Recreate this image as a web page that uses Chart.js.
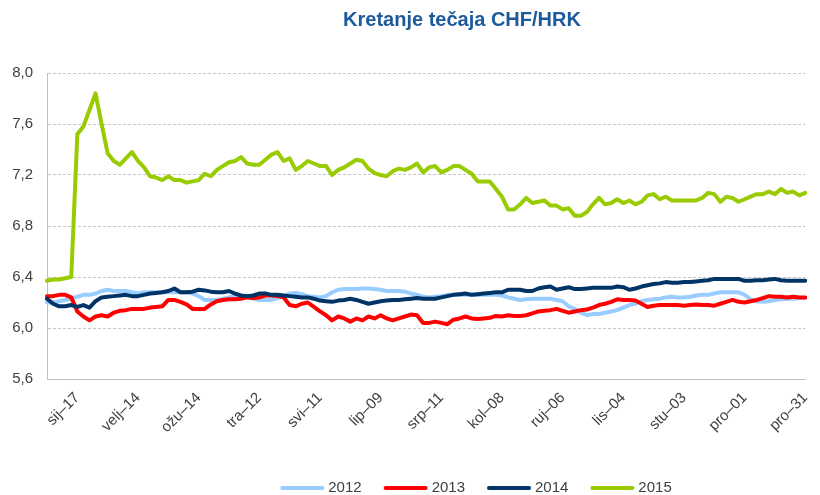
<!DOCTYPE html>
<html>
<head>
<meta charset="utf-8">
<script src="https://cdn.jsdelivr.net/npm/chart.js@4"></script>
<style>
  html, body { margin: 0; padding: 0; background: #fff; }
</style>
</head>
<body>
<canvas id="tecajChart" width="820" height="495"></canvas>
<script>
const chartTitle = 'Kretanje tečaja CHF/HRK';
const seriesNames = ['2012', '2013', '2014', '2015'];
const seriesColors = ['#99ccff', '#ff0000', '#003366', '#99cc00'];
const tickLabels = ['sij–17', 'velj–14', 'ožu–14', 'tra–12', 'svi–11', 'lip–09', 'srp–11',
  'kol–08', 'ruj–06', 'lis–04', 'stu–03', 'pro–01', 'pro–31'];
const tickStart = 5;
const tickEvery = 10;

const values2012 = [6.20,6.20,6.21,6.22,6.23,6.245,6.26,6.26,6.27,6.29,
  6.30,6.29,6.29,6.29,6.28,6.27,6.28,6.28,6.28,6.28,
  6.28,6.28,6.28,6.28,6.27,6.25,6.22,6.22,6.22,6.23,
  6.24,6.25,6.245,6.24,6.23,6.22,6.22,6.22,6.235,6.25,
  6.27,6.275,6.265,6.25,6.245,6.24,6.25,6.28,6.30,6.305,
  6.305,6.305,6.31,6.31,6.305,6.30,6.29,6.29,6.29,6.285,
  6.27,6.26,6.245,6.24,6.245,6.25,6.26,6.26,6.26,6.26,
  6.26,6.26,6.26,6.26,6.26,6.255,6.24,6.23,6.22,6.225,
  6.23,6.23,6.23,6.23,6.22,6.21,6.17,6.15,6.12,6.10,
  6.11,6.11,6.12,6.13,6.14,6.16,6.18,6.19,6.21,6.22,
  6.225,6.23,6.24,6.245,6.24,6.24,6.245,6.255,6.26,6.26,
  6.27,6.28,6.28,6.28,6.28,6.26,6.225,6.21,6.205,6.21,
  6.22,6.225,6.23,6.23,6.235,6.235];

const values2013 = [6.25,6.25,6.26,6.26,6.24,6.13,6.09,6.06,6.09,6.10,
  6.09,6.12,6.135,6.14,6.15,6.15,6.15,6.16,6.165,6.17,
  6.22,6.22,6.205,6.185,6.15,6.15,6.15,6.185,6.21,6.22,
  6.225,6.225,6.23,6.24,6.235,6.24,6.255,6.255,6.25,6.24,
  6.18,6.17,6.19,6.20,6.165,6.13,6.10,6.06,6.09,6.075,
  6.05,6.075,6.06,6.09,6.075,6.10,6.075,6.06,6.075,6.09,
  6.105,6.10,6.04,6.04,6.05,6.04,6.03,6.065,6.075,6.09,
  6.075,6.07,6.075,6.08,6.095,6.09,6.10,6.095,6.095,6.10,
  6.115,6.13,6.135,6.14,6.15,6.135,6.12,6.13,6.14,6.145,
  6.16,6.18,6.19,6.205,6.225,6.22,6.22,6.215,6.19,6.165,
  6.175,6.18,6.18,6.18,6.18,6.175,6.18,6.185,6.18,6.18,
  6.175,6.19,6.205,6.22,6.205,6.20,6.21,6.22,6.235,6.25,
  6.245,6.245,6.24,6.245,6.24,6.24];

const values2014 = [6.23,6.19,6.17,6.17,6.18,6.165,6.18,6.16,6.21,6.24,
  6.245,6.25,6.255,6.26,6.25,6.25,6.26,6.27,6.275,6.28,
  6.29,6.31,6.28,6.28,6.285,6.30,6.295,6.285,6.28,6.28,
  6.29,6.27,6.255,6.25,6.255,6.27,6.27,6.26,6.26,6.255,
  6.25,6.245,6.24,6.24,6.23,6.215,6.21,6.205,6.215,6.22,
  6.23,6.22,6.205,6.19,6.20,6.21,6.215,6.22,6.22,6.225,
  6.23,6.235,6.23,6.23,6.23,6.24,6.25,6.26,6.265,6.27,
  6.26,6.265,6.27,6.275,6.28,6.28,6.30,6.30,6.30,6.29,
  6.29,6.31,6.32,6.325,6.30,6.31,6.32,6.305,6.305,6.31,
  6.315,6.315,6.315,6.315,6.325,6.32,6.30,6.31,6.325,6.335,
  6.345,6.35,6.36,6.355,6.355,6.36,6.36,6.365,6.37,6.375,
  6.385,6.385,6.385,6.385,6.385,6.37,6.37,6.375,6.375,6.38,
  6.385,6.375,6.37,6.37,6.37,6.37];

const values2015 = [6.37,6.38,6.38,6.39,6.40,7.52,7.58,7.71,7.84,7.60,
  7.37,7.31,7.28,7.33,7.38,7.31,7.26,7.19,7.18,7.16,
  7.19,7.16,7.16,7.14,7.15,7.16,7.21,7.19,7.24,7.27,
  7.30,7.31,7.34,7.29,7.28,7.28,7.32,7.36,7.38,7.31,
  7.33,7.24,7.27,7.31,7.29,7.27,7.27,7.20,7.24,7.26,
  7.29,7.32,7.31,7.25,7.215,7.20,7.19,7.23,7.25,7.24,
  7.26,7.29,7.22,7.26,7.27,7.22,7.24,7.27,7.27,7.24,
  7.21,7.15,7.15,7.15,7.09,7.03,6.93,6.93,6.97,7.02,
  6.98,6.99,7.00,6.96,6.96,6.93,6.94,6.88,6.88,6.91,
  6.97,7.02,6.97,6.98,7.01,6.98,7.00,6.97,6.99,7.04,
  7.05,7.01,7.03,7.00,7.00,7.00,7.00,7.00,7.02,7.06,
  7.05,6.99,7.03,7.02,6.99,7.01,7.03,7.05,7.05,7.07,
  7.05,7.09,7.06,7.07,7.04,7.06];

const yMin = 5.6, yMax = 8.0, yStep = 0.4;

// category per point, only every 10th one gets a visible label
const categories = values2015.map((v, i) =>
  (i >= tickStart && (i - tickStart) % tickEvery === 0) ? tickLabels[(i - tickStart) / tickEvery] : '');

const allValues = [values2012, values2013, values2014, values2015];

const datasets = seriesNames.map((name, k) => ({
  label: name,
  data: allValues[k],
  borderColor: seriesColors[k],
  backgroundColor: seriesColors[k],
  borderWidth: 4,
  pointRadius: 0,
  pointHoverRadius: 0,
  tension: 0,
  borderJoinStyle: 'round',
  borderCapStyle: 'round',
  order: seriesNames.length - k   // later years drawn on top, like the original
}));

const fontFamily = '"Liberation Sans", Arial, sans-serif';

// title sits a bit right of centre in the original, so draw it by hand
const titlePlugin = {
  id: 'chartTitle',
  afterDraw(chart) {
    const ctx = chart.ctx;
    ctx.save();
    ctx.font = 'bold 20px ' + fontFamily;
    ctx.fillStyle = '#1d5a9b';
    ctx.textAlign = 'center';
    ctx.textBaseline = 'middle';
    ctx.fillText(chartTitle, 462, 20);
    ctx.restore();
  }
};

// same for the legend: line swatch + year, centred around x=476
const legendPlugin = {
  id: 'bottomLegend',
  afterDraw(chart) {
    const ctx = chart.ctx;
    const lineLen = 44, gap = 4, between = 22, y = 488;
    ctx.save();
    ctx.font = '15px ' + fontFamily;
    ctx.textBaseline = 'middle';
    const items = chart.data.datasets.map(ds => ({
      text: ds.label, color: ds.borderColor, w: lineLen + gap + ctx.measureText(ds.label).width
    }));
    const total = items.reduce((s, it) => s + it.w, 0) + between * (items.length - 1);
    let x = 476 - total / 2;
    items.forEach(it => {
      ctx.strokeStyle = it.color;
      ctx.lineWidth = 4;
      ctx.lineCap = 'round';
      ctx.beginPath();
      ctx.moveTo(x + 2, y);
      ctx.lineTo(x + lineLen - 2, y);
      ctx.stroke();
      ctx.fillStyle = '#404040';
      ctx.fillText(it.text, x + lineLen + gap, y);
      x += it.w + between;
    });
    ctx.restore();
  }
};

new Chart(document.getElementById('tecajChart'), {
  type: 'line',
  data: { labels: categories, datasets: datasets },
  options: {
    responsive: false,
    animation: false,
    layout: { padding: { top: 73, right: 2, bottom: 60, left: 0 } },
    plugins: {
      title: { display: false },
      tooltip: { enabled: false },
      legend: { display: false }
    },
    scales: {
      x: {
        afterFit: (s) => { s.height = 56; },
        grid: { display: false },
        border: { display: true, color: '#bfbfbf', width: 1 },
        ticks: {
          autoSkip: false,
          maxRotation: 45,
          minRotation: 45,
          padding: 2,
          color: '#404040',
          font: { family: fontFamily, size: 15 },
          callback: (v, i) => categories[i] || null
        }
      },
      y: {
        min: yMin,
        max: yMax,
        afterFit: (s) => { s.width = 47; },
        grid: { color: '#c6c6c6', drawTicks: false },
        border: { display: true, color: '#bfbfbf', width: 1, dash: [3, 2] },
        ticks: {
          stepSize: yStep,
          padding: 14,
          color: '#404040',
          font: { family: fontFamily, size: 15 },
          callback: (v) => Number(v).toFixed(1).replace('.', ',')
        }
      }
    }
  },
  plugins: [titlePlugin, legendPlugin]
});
</script>
</body>
</html>
